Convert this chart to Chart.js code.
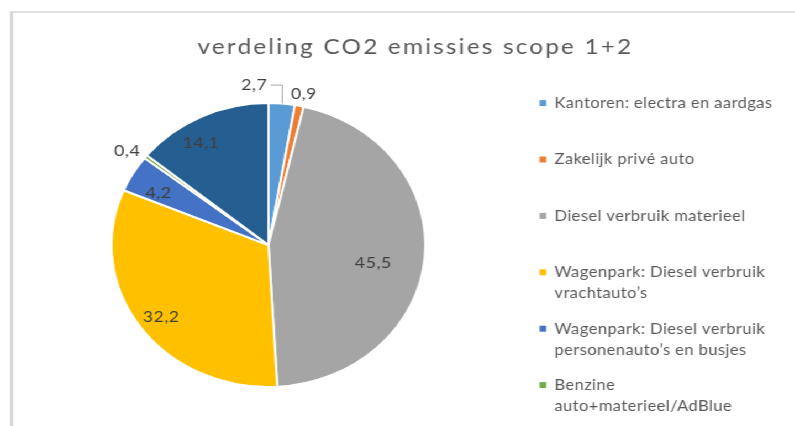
<!DOCTYPE html>
<html>
<head>
<meta charset="utf-8">
<script src="https://cdn.jsdelivr.net/npm/chart.js@4"></script>
<style>
  html, body { margin: 0; padding: 0; background: #fff; overflow: hidden; }
  #stretch { position: absolute; left: 0; top: 0; width: 723px; height: 426px; transform: scaleX(1.105); transform-origin: 0 0; }
  #frame { position: absolute; left: 9px; top: 11px; width: 900px; height: 600px; border-left: 3px solid #d9d9d9; border-top: 2px solid #dedede; }
  #wrap { position: absolute; left: 12px; top: 14px; }
</style>
</head>
<body>
<div id="stretch">
  <div id="frame"></div>
  <div id="wrap"><canvas id="chart" width="728" height="420"></canvas></div>
</div>
<script>
"use strict";

const chartTitle = 'verdeling CO2 emissies scope 1+2';

const categories = [
  ['Kantoren: electra en aardgas'],
  ['Zakelijk privé auto'],
  ['Diesel verbruik materieel'],
  ['Wagenpark: Diesel verbruik', 'vrachtauto’s'],
  ['Wagenpark: Diesel verbruik', 'personenauto’s en busjes'],
  ['Benzine', 'auto+materieel/AdBlue'],
  ['']
];

const shares = [2.7, 0.9, 45.5, 32.2, 4.2, 0.4, 14.1];

const sliceColors = ['#5B9BD5', '#ED7D31', '#A5A5A5', '#FFC000', '#4472C4', '#70AD47', '#255E91'];

// where each value label sits: fraction of the radius, and a small turn in degrees
const labelRadius = [1.13, 1.09, 0.68, 0.85, 0.79, 1.12, 0.84];
const labelTurn = [0, 0.6, 5.8, -1.2, -2.7, -2, -5.4];
const leaderLine = [true, false, false, false, false, false, false];

// the last slice does not fit in the legend
const legendShown = 6;

const textLook = {
  id: 'textLook',
  afterInit(chart) {
    chart.ctx.letterSpacing = '0.35px';
    // wider spacing for the title only
    const title = chart.titleBlock;
    const drawTitle = title.draw.bind(title);
    title.draw = function(area) {
      const before = chart.ctx.letterSpacing;
      chart.ctx.letterSpacing = '2px';
      drawTitle(area);
      chart.ctx.letterSpacing = before;
    };
  },
  // center the title over the whole canvas, not only the space left of the legend
  afterLayout(chart) {
    const t = chart.titleBlock;
    t.left = 0;
    t.right = chart.width;
    t.width = chart.width;
  }
};

const sliceLabels = {
  id: 'sliceLabels',
  afterDatasetsDraw(chart) {
    const ctx = chart.ctx;
    const meta = chart.getDatasetMeta(0);
    ctx.save();
    ctx.font = '16px Lato';
    ctx.letterSpacing = '0.5px';
    ctx.fillStyle = '#404040';
    ctx.textBaseline = 'middle';
    meta.data.forEach(function(arc, i) {
      const p = arc.getProps(['x', 'y', 'startAngle', 'endAngle', 'outerRadius'], true);
      const mid = (p.startAngle + p.endAngle) / 2 + labelTurn[i] * Math.PI / 180;
      const text = String(shares[i]).replace('.', ',');
      if (leaderLine[i]) {
        const ex = p.x + Math.cos(mid) * p.outerRadius;
        const ey = p.y + Math.sin(mid) * p.outerRadius;
        const ly = p.y - p.outerRadius * labelRadius[i];
        ctx.strokeStyle = '#a6a6a6';
        ctx.lineWidth = 1;
        ctx.beginPath();
        ctx.moveTo(ex + 0.5, ey);
        ctx.lineTo(ex + 0.5, ly + 0.5);
        ctx.lineTo(ex - 10, ly + 0.5);
        ctx.stroke();
        ctx.textAlign = 'right';
        ctx.fillText(text, ex - 13, ly);
      } else {
        const r = p.outerRadius * labelRadius[i];
        ctx.textAlign = 'center';
        ctx.fillText(text, p.x + Math.cos(mid) * r, p.y + Math.sin(mid) * r);
      }
    });
    ctx.restore();
  }
};

const pieLabels = Chart.overrides.pie.plugins.legend.labels.generateLabels;

new Chart(document.getElementById('chart'), {
  type: 'pie',
  data: {
    labels: categories,
    datasets: [{
      data: shares,
      backgroundColor: sliceColors,
      borderColor: '#ffffff',
      borderWidth: 2,
      hoverOffset: 0,
      radius: 142
    }]
  },
  plugins: [textLook, sliceLabels],
  options: {
    responsive: false,
    animation: false,
    layout: { padding: { left: 0, right: 31, top: 0, bottom: 0 } },
    plugins: {
      tooltip: { enabled: false },
      title: {
        display: true,
        text: chartTitle,
        color: '#595959',
        font: { family: 'Lato', size: 22, weight: 'normal', lineHeight: 0.8 },
        padding: { top: 24.5, bottom: 0 }
      },
      legend: {
        position: 'right',
        align: 'end',
        labels: {
          color: '#595959',
          font: { family: 'Lato', size: 15, lineHeight: 1.4 },
          boxWidth: 6,
          boxHeight: 6,
          padding: 14.4,
          filter: function(item) { return item.index < legendShown; },
          generateLabels: function(c) {
            return pieLabels(c).map(function(item) {
              // every entry takes two lines, so the rows are evenly spaced
              const lines = categories[item.index].slice();
              if (lines.length < 2) lines.push('');
              item.text = lines;
              item.lineWidth = 0;
              item.strokeStyle = item.fillStyle;
              return item;
            });
          }
        }
      }
    }
  }
});
</script>
</body>
</html>
